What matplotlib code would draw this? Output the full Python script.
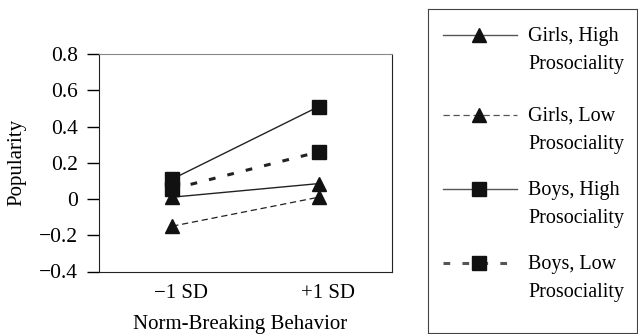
import matplotlib
matplotlib.use("Agg")
import matplotlib.pyplot as plt
from matplotlib.transforms import ScaledTranslation

plt.rcParams['font.family'] = ['Liberation Serif', 'DejaVu Serif']

x_labels = ['\u22121 SD', '+1 SD']
girls_high = [0.01, 0.085]
girls_low = [-0.15, 0.01]
boys_high = [0.11, 0.51]
boys_low = [0.055, 0.26]
series_names = ['Girls, High\nProsociality', 'Girls, Low\nProsociality',
                'Boys, High\nProsociality', 'Boys, Low\nProsociality']
yticks = [-0.4, -0.2, 0, 0.2, 0.4, 0.6, 0.8]
ytick_labels = ['\u22120.4', '\u22120.2', '0', '0.2', '0.4', '0.6', '0.8']

W, H = 638, 334
fig = plt.figure(figsize=(W / 100, H / 100), dpi=100)
ax = fig.add_axes([99 / W, 1 - 271.5 / H, (392 - 99) / W, (271.5 - 54) / H])

xs = [0, 1]
styles = [
    dict(ls='-', lw=1.0, marker='^', ms=10),
    dict(ls=(0, (5, 3)), lw=0.9, marker='^', ms=10),
    dict(ls='-', lw=1.0, marker='s', ms=9.5),
    dict(ls=(0, (2.2, 4)), lw=2.2, marker='s', ms=9.5),
]
for vals, st in zip([girls_high, girls_low, boys_high, boys_low], styles):
    ax.plot(xs, vals, color='#222222', mfc='#111111', mec='#111111', **st)

ax.set_xlim(-0.5, 1.5)
ax.set_ylim(-0.4, 0.8)
ax.set_xticks(xs)
ax.set_xticklabels(x_labels)
ax.set_yticks(yticks)
ax.set_yticklabels(ytick_labels)
ax.tick_params(axis='x', length=0, pad=9, labelsize=15)
ax.tick_params(axis='y', length=9, width=1, pad=6, labelsize=15.5, direction='out')
shift = ScaledTranslation(0.09, 0, fig.dpi_scale_trans)
for lab in ax.get_xticklabels():
    lab.set_transform(lab.get_transform() + shift)
for s in ['left', 'bottom', 'right']:
    ax.spines[s].set_color('#222222')
ax.spines['top'].set_color('#888888')
ax.set_ylabel('Popularity', fontsize=15, labelpad=9)
ax.set_xlabel('Norm-Breaking Behavior', fontsize=15)
ax.xaxis.set_label_coords(0.48, -0.2)

# legend drawn as a boxed panel
lax = fig.add_axes([428 / W, 1 - 333 / H, (637 - 428) / W, (333 - 9) / H])
lax.set_xlim(0, 209)
lax.set_ylim(324, 0)
lax.set_xticks([])
lax.set_yticks([])
for s in lax.spines.values():
    s.set_color('#444444')
row_y = [26, 106, 180, 254]
for name, st, y in zip(series_names, styles, row_y):
    lax.plot([15, 89], [y, y], color='#555555', ls=st['ls'], lw=st['lw'])
    lax.plot([51], [y], color='#111111', marker=st['marker'], ms=st['ms'], ls='none')
    lax.text(100, y - 8, name, fontsize=14.5, va='top', ha='left', linespacing=1.62)

fig.savefig('out.png', dpi=100)
